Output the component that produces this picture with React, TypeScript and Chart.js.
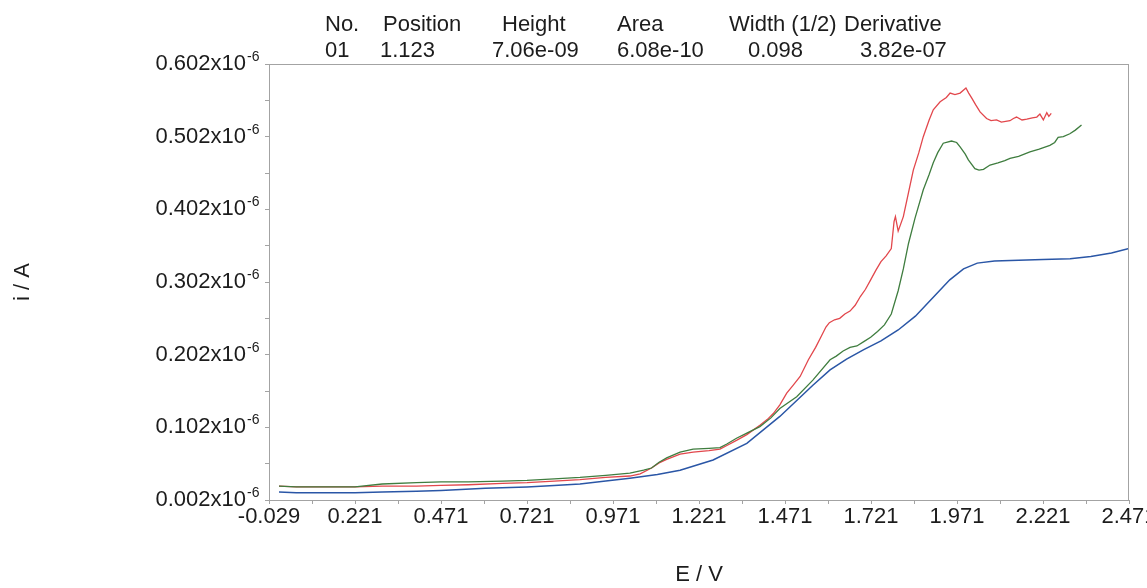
import React, { useEffect, useRef } from 'react';
import { Chart, registerables } from 'chart.js';

Chart.register(...registerables);

// ---- Axis ticks ----
const xTickValues = [-0.029, 0.221, 0.471, 0.721, 0.971, 1.221, 1.471, 1.721, 1.971, 2.221, 2.471];
const xTickLabels = ['-0.029', '0.221', '0.471', '0.721', '0.971', '1.221', '1.471', '1.721', '1.971', '2.221', '2.471'];
const yTickValues = [0.002, 0.102, 0.202, 0.302, 0.402, 0.502, 0.602];
const yTickLabels = ['0.002', '0.102', '0.202', '0.302', '0.402', '0.502', '0.602'];
const yExponent = '-6';
const xTitle = 'E / V';
const yTitle = 'i / A';

// ---- Peak table ----
const headerNames = ['No.', 'Position', 'Height', 'Area', 'Width (1/2)', 'Derivative'];
const headerValues = ['01', '1.123', '7.06e-09', '6.08e-10', '0.098', '3.82e-07'];

// ---- Series (E in V, i in 10^-6 A) ----
const redE = [0.0, 0.05, 0.1, 0.15, 0.221, 0.3, 0.4, 0.471, 0.55, 0.65, 0.721, 0.8, 0.875, 0.95, 1.02, 1.05, 1.083, 1.105, 1.127, 1.166, 1.204, 1.25, 1.282, 1.302, 1.33, 1.36, 1.398, 1.42, 1.437, 1.456, 1.476, 1.495, 1.515, 1.539, 1.56, 1.575, 1.59, 1.6, 1.615, 1.63, 1.645, 1.66, 1.675, 1.69, 1.705, 1.72, 1.735, 1.75, 1.765, 1.78, 1.788, 1.792, 1.8, 1.815, 1.83, 1.844, 1.86, 1.873, 1.89, 1.902, 1.922, 1.94, 1.951, 1.965, 1.98, 1.997, 2.005, 2.014, 2.025, 2.038, 2.057, 2.07, 2.086, 2.1, 2.125, 2.135, 2.144, 2.16, 2.174, 2.19, 2.203, 2.212, 2.222, 2.232, 2.238, 2.245];
const redI = [0.021, 0.020, 0.020, 0.020, 0.020, 0.021, 0.021, 0.022, 0.023, 0.025, 0.026, 0.028, 0.030, 0.033, 0.035, 0.038, 0.046, 0.053, 0.058, 0.065, 0.068, 0.070, 0.072, 0.077, 0.084, 0.092, 0.105, 0.113, 0.121, 0.133, 0.149, 0.160, 0.172, 0.195, 0.212, 0.226, 0.240, 0.246, 0.250, 0.252, 0.258, 0.262, 0.270, 0.282, 0.292, 0.305, 0.318, 0.330, 0.338, 0.348, 0.385, 0.392, 0.372, 0.392, 0.425, 0.456, 0.480, 0.502, 0.525, 0.539, 0.550, 0.556, 0.562, 0.560, 0.562, 0.569, 0.562, 0.555, 0.546, 0.536, 0.527, 0.524, 0.525, 0.522, 0.524, 0.527, 0.529, 0.525, 0.526, 0.528, 0.529, 0.533, 0.525, 0.535, 0.530, 0.534];

const greenE = [0.0, 0.05, 0.1, 0.15, 0.221, 0.3, 0.4, 0.471, 0.55, 0.65, 0.721, 0.8, 0.875, 0.95, 1.02, 1.06, 1.083, 1.105, 1.127, 1.166, 1.204, 1.25, 1.282, 1.302, 1.33, 1.36, 1.398, 1.43, 1.456, 1.505, 1.552, 1.602, 1.62, 1.64, 1.66, 1.68, 1.7, 1.72, 1.74, 1.76, 1.78, 1.8, 1.815, 1.83, 1.849, 1.873, 1.89, 1.902, 1.915, 1.931, 1.955, 1.97, 1.98, 1.995, 2.004, 2.023, 2.035, 2.048, 2.067, 2.09, 2.11, 2.125, 2.15, 2.183, 2.21, 2.241, 2.255, 2.265, 2.28, 2.299, 2.315, 2.333];
const greenI = [0.021, 0.020, 0.020, 0.020, 0.020, 0.024, 0.026, 0.027, 0.027, 0.028, 0.029, 0.031, 0.033, 0.036, 0.039, 0.043, 0.046, 0.054, 0.060, 0.068, 0.072, 0.073, 0.074, 0.079, 0.087, 0.094, 0.103, 0.115, 0.128, 0.144, 0.167, 0.195, 0.200, 0.207, 0.212, 0.214, 0.220, 0.226, 0.234, 0.243, 0.258, 0.290, 0.320, 0.355, 0.390, 0.429, 0.450, 0.466, 0.480, 0.493, 0.496, 0.494, 0.488, 0.478, 0.470, 0.458, 0.456, 0.457, 0.463, 0.466, 0.469, 0.472, 0.475, 0.481, 0.485, 0.490, 0.494, 0.501, 0.502, 0.506, 0.511, 0.518];

const blueE = [0.0, 0.05, 0.1, 0.221, 0.3, 0.4, 0.471, 0.6, 0.721, 0.8, 0.875, 0.95, 1.02, 1.1, 1.166, 1.262, 1.36, 1.456, 1.552, 1.602, 1.65, 1.7, 1.75, 1.8, 1.85, 1.9, 1.95, 1.99, 2.03, 2.08, 2.15, 2.221, 2.3, 2.36, 2.42, 2.471];
const blueI = [0.013, 0.012, 0.012, 0.012, 0.013, 0.014, 0.015, 0.018, 0.020, 0.022, 0.024, 0.028, 0.032, 0.037, 0.043, 0.057, 0.080, 0.117, 0.160, 0.181, 0.196, 0.209, 0.221, 0.236, 0.255, 0.280, 0.305, 0.320, 0.328, 0.331, 0.332, 0.333, 0.334, 0.337, 0.342, 0.348];

const FONT = '"Liberation Sans", Arial, sans-serif';
const TEXT = '#1c1c1c';
const AXIS = '#a3a3a3';

const zip = (xs: number[], ys: number[]) => xs.map((x, i) => ({ x, y: ys[i] }));
const withMinor = (vals: number[]) => {
  const out: number[] = [];
  vals.forEach((v, i) => {
    out.push(v);
    if (i < vals.length - 1) out.push((v + vals[i + 1]) / 2);
  });
  return out;
};
const findLabel = (vals: number[], labels: string[], v: number) => {
  const i = vals.findIndex((t) => Math.abs(t - v) < 1e-6);
  return i >= 0 ? labels[i] : '';
};

const headerLefts = [325, 383, 502, 617, 729, 844];
const valueLefts = [325, 380, 492, 617, 748, 860];

export default function App() {
  const ref = useRef<HTMLCanvasElement | null>(null);

  useEffect(() => {
    if (!ref.current) return;
    const overlay = {
      id: 'overlay',
      afterDraw(chart: any) {
        const { ctx, chartArea: a } = chart;
        const y = chart.scales.y;
        ctx.save();
        ctx.strokeStyle = AXIS;
        ctx.lineWidth = 1;
        ctx.beginPath();
        ctx.moveTo(a.left, a.top + 0.5);
        ctx.lineTo(a.right, a.top + 0.5);
        ctx.moveTo(a.right - 0.5, a.top);
        ctx.lineTo(a.right - 0.5, a.bottom);
        ctx.stroke();
        ctx.font = `14px ${FONT}`;
        ctx.fillStyle = TEXT;
        ctx.textAlign = 'left';
        ctx.textBaseline = 'alphabetic';
        const xEnd = y.right - 4 - 19;
        yTickValues.forEach((v) => {
          const py = y.getPixelForValue(v);
          ctx.fillText(yExponent, xEnd + 1, py - 3);
        });
        ctx.restore();
      },
    };

    const chart = new Chart(ref.current, {
      type: 'line',
      data: {
        datasets: [
          { label: 'green', data: zip(greenE, greenI), borderColor: '#3f7d3f', borderWidth: 1.3, pointRadius: 0, tension: 0 },
          { label: 'red', data: zip(redE, redI), borderColor: '#e2474c', borderWidth: 1.3, pointRadius: 0, tension: 0 },
          { label: 'blue', data: zip(blueE, blueI), borderColor: '#2a56a6', borderWidth: 1.5, pointRadius: 0, tension: 0 },
        ],
      },
      options: {
        animation: false,
        responsive: false,
        maintainAspectRatio: false,
        layout: { padding: { top: 64, right: 18, left: 0, bottom: 0 } },
        plugins: { legend: { display: false }, tooltip: { enabled: false }, title: { display: false } },
        scales: {
          x: {
            type: 'linear',
            min: -0.029,
            max: 2.471,
            afterBuildTicks: (scale: any) => {
              scale.ticks = withMinor(xTickValues).map((v) => ({ value: v }));
            },
            afterFit: (scale: any) => {
              scale.height = 88;
              scale.paddingLeft = 0;
              scale.paddingRight = 0;
            },
            ticks: {
              autoSkip: false,
              maxRotation: 0,
              padding: 0,
              color: TEXT,
              font: { family: FONT, size: 22, lineHeight: 1.2 },
              callback: (v: any) => findLabel(xTickValues, xTickLabels, Number(v)),
            },
            grid: { display: true, drawOnChartArea: false, drawTicks: true, tickLength: 4, color: AXIS },
            border: { display: true, color: AXIS },
            title: { display: true, text: xTitle, color: TEXT, font: { family: FONT, size: 22, lineHeight: 1.2 }, padding: { top: 0, bottom: 0 } },
          },
          y: {
            type: 'linear',
            min: 0.002,
            max: 0.602,
            afterBuildTicks: (scale: any) => {
              scale.ticks = withMinor(yTickValues).map((v) => ({ value: v }));
            },
            afterFit: (scale: any) => {
              scale.width = 269;
              scale.paddingTop = 0;
              scale.paddingBottom = 0;
            },
            ticks: {
              autoSkip: false,
              padding: 19,
              color: TEXT,
              font: { family: FONT, size: 22, lineHeight: 1.2 },
              callback: (v: any) => {
                const l = findLabel(yTickValues, yTickLabels, Number(v));
                return l ? `${l}x10` : '';
              },
            },
            grid: { display: true, drawOnChartArea: false, drawTicks: true, tickLength: 4, color: AXIS },
            border: { display: true, color: AXIS },
            title: { display: true, text: yTitle, color: TEXT, font: { family: FONT, size: 22, lineHeight: 1.2 }, padding: { top: 10, bottom: 0 } },
          },
        },
      },
      plugins: [overlay],
    } as any);
    return () => chart.destroy();
  }, []);

  const textStyle = (left: number, top: number): React.CSSProperties => ({
    position: 'absolute',
    left,
    top,
    fontFamily: FONT,
    fontSize: 22,
    lineHeight: '22px',
    color: TEXT,
    whiteSpace: 'nowrap',
  });

  return (
    <div style={{ position: 'absolute', left: 0, top: 0, width: 1147, height: 588, background: '#fff', overflow: 'hidden' }}>
      <canvas ref={ref} width={1147} height={588} style={{ display: 'block', position: 'absolute', left: 0, top: 0 }} />
      {headerNames.map((t, i) => (
        <div key={'h' + i} style={textStyle(headerLefts[i], 13)}>{t}</div>
      ))}
      {headerValues.map((t, i) => (
        <div key={'v' + i} style={textStyle(valueLefts[i], 39)}>{t}</div>
      ))}
    </div>
  );
}
